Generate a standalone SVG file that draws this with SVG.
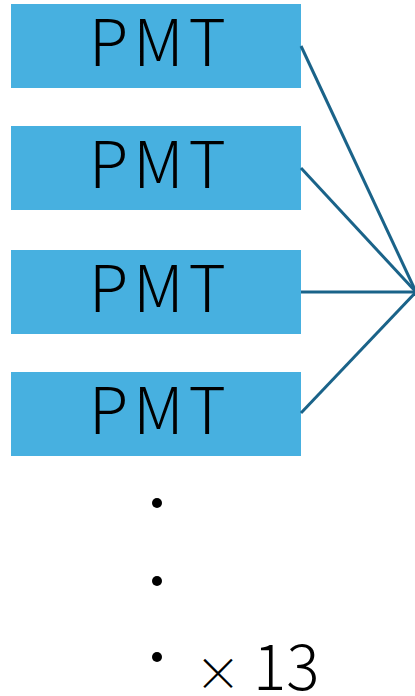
<svg xmlns="http://www.w3.org/2000/svg" width="415" height="696" viewBox="0 0 415 696">
<style>
.box{fill:#47b0e0}
.lbl{font-family:"Noto Sans CJK JP","Noto Sans",sans-serif;font-weight:300;font-size:64px;fill:#000;text-anchor:middle;letter-spacing:5px}
.wire{stroke:#1a6389;stroke-width:3;fill:none}
.note{font-family:"Noto Sans CJK JP","Noto Sans",sans-serif;font-weight:300;font-size:62px;fill:#000}
</style>
<rect width="415" height="696" fill="#fff"/>
<g id="pmt1"><rect class="box" x="11" y="4" width="290" height="84"/><text class="lbl" x="160" y="66">PMT</text></g>
<g id="pmt2"><rect class="box" x="11" y="126" width="290" height="84"/><text class="lbl" x="160" y="188">PMT</text></g>
<g id="pmt3"><rect class="box" x="11" y="250" width="290" height="84"/><text class="lbl" x="160" y="312">PMT</text></g>
<g id="pmt4"><rect class="box" x="11" y="372" width="290" height="84"/><text class="lbl" x="160" y="434">PMT</text></g>
<g id="connectors">
<line class="wire" x1="301" y1="46" x2="416" y2="292"/>
<line class="wire" x1="301" y1="168" x2="416" y2="292"/>
<line class="wire" x1="301" y1="292" x2="416" y2="292"/>
<line class="wire" x1="301" y1="413" x2="416" y2="292"/>
</g>
<g id="count">
<circle cx="157" cy="503" r="5"/>
<circle cx="157" cy="581" r="5"/>
<circle cx="157" cy="657" r="5"/>
<text class="note" x="195" y="690"><tspan font-size="46" fill="#000">×</tspan><tspan dx="12">13</tspan></text>
</g>
</svg>
